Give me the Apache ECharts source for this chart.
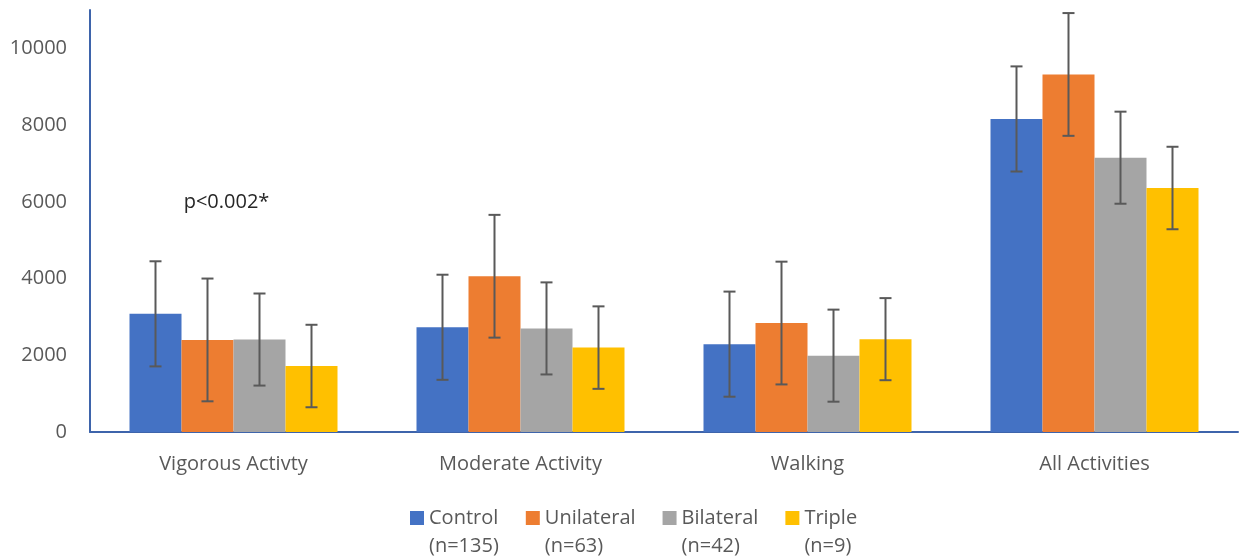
<!DOCTYPE html>
<html>
<head>
<meta charset="utf-8">
<script src="https://cdn.jsdelivr.net/npm/echarts@6/dist/echarts.min.js"></script>
<style>
  html, body { margin: 0; padding: 0; background: #ffffff; }
  #chart { width: 1239px; height: 559px; }
</style>
</head>
<body>
<div id="chart"></div>
<script>
// Activity categories on the x axis
const categories = ['Vigorous Activty', 'Moderate Activity', 'Walking', 'All Activities'];

// Groups and their sample sizes
const groups = ['Control', 'Unilateral', 'Bilateral', 'Triple'];
const groupSizes = ['(n=135)', '(n=63)', '(n=42)', '(n=9)'];

// Mean values per category, one array per group
const controlMeans    = [3080, 2730, 2290, 8160];
const unilateralMeans = [2400, 4060, 2840, 9320];
const bilateralMeans  = [2410, 2700, 1990, 7150];
const tripleMeans     = [1720, 2200, 2420, 6360];

// Standard deviations (error bar half-lengths)
const controlSD    = [1370, 1370, 1370, 1370];
const unilateralSD = [1600, 1600, 1600, 1600];
const bilateralSD  = [1200, 1200, 1200, 1200];
const tripleSD     = [1075, 1075, 1070, 1075];

// Significance note shown above the first category
const significanceNote = 'p<0.002*';
const significanceValue = 6000;

const means = [controlMeans, unilateralMeans, bilateralMeans, tripleMeans];
const sds = [controlSD, unilateralSD, bilateralSD, tripleSD];
const colors = ['#4472C4', '#ED7D31', '#A5A5A5', '#FFC000'];
const BAR_W = 52;
const textGray = '#595959';
const axisBlue = '#3E64AB';
const FONT = '"Open Sans", sans-serif';

const chart = echarts.init(document.getElementById('chart'));

const barSeries = groups.map((g, i) => ({
  name: g,
  type: 'bar',
  data: means[i],
  barWidth: BAR_W,
  barGap: '0%',
  itemStyle: { color: colors[i] },
  emphasis: { disabled: true }
}));

// Error bars drawn as custom series, offset to each bar's centre
const errorSeries = groups.map((g, i) => ({
  name: g + ' SD',
  type: 'custom',
  silent: true,
  z: 5,
  data: means[i].map((m, k) => [k, m - sds[i][k], m + sds[i][k]]),
  renderItem: function (params, api) {
    const idx = api.value(0);
    const lo = api.coord([idx, api.value(1)]);
    const hi = api.coord([idx, api.value(2)]);
    const x = lo[0] + (i - 1.5) * BAR_W;
    const cap = 6;
    const style = { stroke: '#595959', lineWidth: 2 };
    return {
      type: 'group',
      children: [
        { type: 'line', shape: { x1: x, y1: hi[1], x2: x, y2: lo[1] }, style: style },
        { type: 'line', shape: { x1: x - cap, y1: hi[1], x2: x + cap, y2: hi[1] }, style: style },
        { type: 'line', shape: { x1: x - cap, y1: lo[1], x2: x + cap, y2: lo[1] }, style: style }
      ]
    };
  }
}));

// p-value note anchored at the category centre in data coordinates
errorSeries[0].markPoint = {
  symbol: 'circle',
  symbolSize: 0,
  silent: true,
  label: {
    show: true,
    position: 'inside',
    offset: [-7, 0],
    formatter: significanceNote,
    color: '#262626',
    fontSize: 20,
    fontFamily: FONT
  },
  data: [{ coord: [0, significanceValue] }]
};

// Legend square sits on the first of two text lines
const legendIcon = 'path://M0,0h14v14h-14z M0,42h0.01';

chart.setOption({
  animation: false,
  backgroundColor: '#ffffff',
  grid: { left: 90, right: 1, top: 10, bottom: 127, containLabel: false },
  legend: {
    data: groups,
    left: 410,
    top: 504,
    padding: 0,
    itemGap: 27,
    itemWidth: 14,
    itemHeight: 42,
    icon: legendIcon,
    selectedMode: false,
    formatter: function (name) {
      return name + '\n' + groupSizes[groups.indexOf(name)];
    },
    textStyle: { color: textGray, fontSize: 20, fontFamily: FONT, lineHeight: 28 }
  },
  xAxis: {
    type: 'category',
    data: categories,
    axisLine: { show: true, lineStyle: { color: axisBlue, width: 2 } },
    axisTick: { show: false },
    axisLabel: { color: textGray, fontSize: 20, fontFamily: FONT, margin: 22 },
    splitLine: { show: false }
  },
  yAxis: {
    type: 'value',
    min: 0,
    max: 11000,
    interval: 2000,
    axisLine: { show: true, lineStyle: { color: axisBlue, width: 2 } },
    axisTick: { show: false },
    splitLine: { show: false },
    axisLabel: {
      color: textGray, fontSize: 20, fontFamily: FONT, margin: 23, showMaxLabel: false,
      formatter: function (v) { return String(v); }
    }
  },
  series: barSeries.concat(errorSeries)
});
</script>
</body>
</html>
